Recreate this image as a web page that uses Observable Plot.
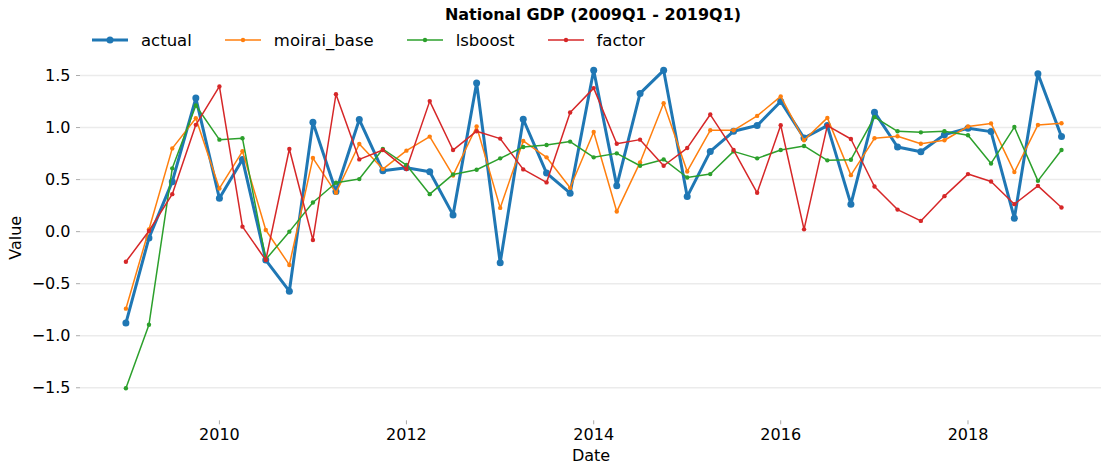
<!DOCTYPE html>
<html><head><meta charset="utf-8">
<script src="https://cdn.jsdelivr.net/npm/d3@7"></script>
<script src="https://cdn.jsdelivr.net/npm/@observablehq/plot@0.6"></script>
<style>
body{margin:0;background:#fff;font-family:"DejaVu Sans",sans-serif;}
#wrap{position:relative;width:1101px;height:465px;overflow:hidden;}
#title{position:absolute;left:125px;width:936px;top:6px;text-align:center;font-weight:bold;font-size:16px;line-height:18px;color:#000;}
#legend{position:absolute;left:92px;top:30px;height:20px;display:flex;align-items:center;font-size:16.5px;color:#000;}
.item{display:flex;align-items:center;margin-right:33px;}
.item svg{margin-right:13px;display:block;}
#chart{position:absolute;left:0;top:52px;}
</style>
</head><body>
<div id="wrap">
  <div id="title">National GDP (2009Q1 - 2019Q1)</div>
  <div id="legend"></div>
  <div id="chart"></div>
</div>
<script>
const quarters = [
  "2009-01-01","2009-04-01","2009-07-01","2009-10-01",
  "2010-01-01","2010-04-01","2010-07-01","2010-10-01",
  "2011-01-01","2011-04-01","2011-07-01","2011-10-01",
  "2012-01-01","2012-04-01","2012-07-01","2012-10-01",
  "2013-01-01","2013-04-01","2013-07-01","2013-10-01",
  "2014-01-01","2014-04-01","2014-07-01","2014-10-01",
  "2015-01-01","2015-04-01","2015-07-01","2015-10-01",
  "2016-01-01","2016-04-01","2016-07-01","2016-10-01",
  "2017-01-01","2017-04-01","2017-07-01","2017-10-01",
  "2018-01-01","2018-04-01","2018-07-01","2018-10-01",
  "2019-01-01"
];
const actual = [
  -0.878, -0.06, 0.48, 1.283,
  0.32, 0.694, -0.273, -0.572,
  1.05, 0.386, 1.077, 0.585,
  0.614, 0.575, 0.161, 1.428,
  -0.299, 1.08, 0.563, 0.37,
  1.55, 0.44, 1.328, 1.55,
  0.337, 0.771, 0.964, 1.019,
  1.25, 0.9, 1.019, 0.264,
  1.148, 0.813, 0.768, 0.932,
  0.994, 0.961, 0.129, 1.517,
  0.913
];
const moirai_base = [
  -0.74, 0.02, 0.80, 1.09,
  0.415, 0.772, 0.016, -0.32,
  0.707, 0.373, 0.842, 0.601,
  0.778, 0.913, 0.54, 1.01,
  0.228, 0.871, 0.714, 0.421,
  0.958, 0.193, 0.665, 1.234,
  0.578, 0.974, 0.974, 1.112,
  1.30, 0.878, 1.093, 0.543,
  0.897, 0.916, 0.845, 0.878,
  1.01, 1.04, 0.572, 1.025,
  1.042
];
const lsboost = [
  -1.505, -0.894, 0.608, 1.212,
  0.884, 0.897, -0.267, 0.0,
  0.28, 0.47, 0.505, 0.794,
  0.64, 0.36, 0.55, 0.595,
  0.704, 0.813, 0.833, 0.865,
  0.714, 0.752, 0.633, 0.694,
  0.52, 0.553, 0.771, 0.704,
  0.784, 0.823, 0.685, 0.691,
  1.10, 0.964, 0.954, 0.964,
  0.926, 0.655, 1.005, 0.488,
  0.785
];
const factor = [
  -0.289, 0.006, 0.36, 1.026,
  1.395, 0.048, -0.273, 0.794,
  -0.08, 1.32, 0.694, 0.784,
  0.601, 1.254, 0.784, 0.965,
  0.894, 0.598, 0.473, 1.145,
  1.379, 0.845, 0.884, 0.633,
  0.803, 1.125, 0.784, 0.373,
  1.022, 0.022, 1.019, 0.89,
  0.434, 0.212, 0.103, 0.341,
  0.553, 0.482, 0.264, 0.44,
  0.232
];
const seriesNames = ["actual", "moirai_base", "lsboost", "factor"];
const seriesColors = ["#1f77b4", "#ff7f0e", "#2ca02c", "#d62728"];
const seriesWidths = [3, 1.5, 1.5, 1.5];
const seriesRadii = [3.5, 2.2, 2.2, 2.2];
const yTicks = [-1.5, -1.0, -0.5, 0.0, 0.5, 1.0, 1.5];
const xTickYears = ["2010-01-01", "2012-01-01", "2014-01-01", "2016-01-01", "2018-01-01"];

const valuesBySeries = [actual, moirai_base, lsboost, factor];
const dates = quarters.map(q => new Date(q + "T00:00:00Z"));
const xTicks = xTickYears.map(q => new Date(q + "T00:00:00Z"));

const seriesMarks = [];
seriesNames.forEach((name, i) => {
  const rows = dates.map((d, j) => ({date: d, value: valuesBySeries[i][j], series: name}));
  seriesMarks.push(Plot.line(rows, {x: "date", y: "value", stroke: seriesColors[i], strokeWidth: seriesWidths[i], strokeLinejoin: "round", strokeLinecap: "round"}));
  seriesMarks.push(Plot.dot(rows, {x: "date", y: "value", fill: seriesColors[i], r: seriesRadii[i], stroke: "none"}));
});

const fmt = d => d.toFixed(1).replace("-", "\u2212");

const chart = Plot.plot({
  width: 1101,
  height: 413,
  marginLeft: 80,
  marginRight: 0,
  marginTop: 2.2,
  marginBottom: 44.7,
  style: {fontFamily: "DejaVu Sans", fontSize: "16px", background: "#fff", color: "#000"},
  x: {type: "utc", domain: [dates[0], dates[dates.length - 1]], range: [125.4, 1061]},
  y: {domain: [-1.8173, 1.7]},
  marks: [
    Plot.gridY(yTicks, {stroke: "#ebebeb", strokeOpacity: 1, strokeWidth: 1.5}),
    Plot.axisY(yTicks, {tickSize: 4, tickPadding: 6, stroke: "#aaa", tickFormat: fmt, label: "Value", labelAnchor: "center", labelOffset: 71, labelArrow: "none", fontSize: 16}),
    Plot.axisX(xTicks, {tickSize: 4, tickPadding: 4, stroke: "#aaa", tickFormat: d => String(d.getUTCFullYear()), label: "Date", labelAnchor: "center", labelOffset: 40, labelArrow: "none", fontSize: 16}),
    ...seriesMarks
  ]
});
document.getElementById("chart").appendChild(chart);

const legend = document.getElementById("legend");
seriesNames.forEach((name, i) => {
  const item = document.createElement("div");
  item.className = "item";
  item.innerHTML = `<svg width="36" height="10"><line x1="0" y1="5" x2="36" y2="5" stroke="${seriesColors[i]}" stroke-width="${seriesWidths[i]}"/><circle cx="18" cy="5" r="${seriesRadii[i]}" fill="${seriesColors[i]}"/></svg><span>${name}</span>`;
  legend.appendChild(item);
});
</script>
</body></html>
